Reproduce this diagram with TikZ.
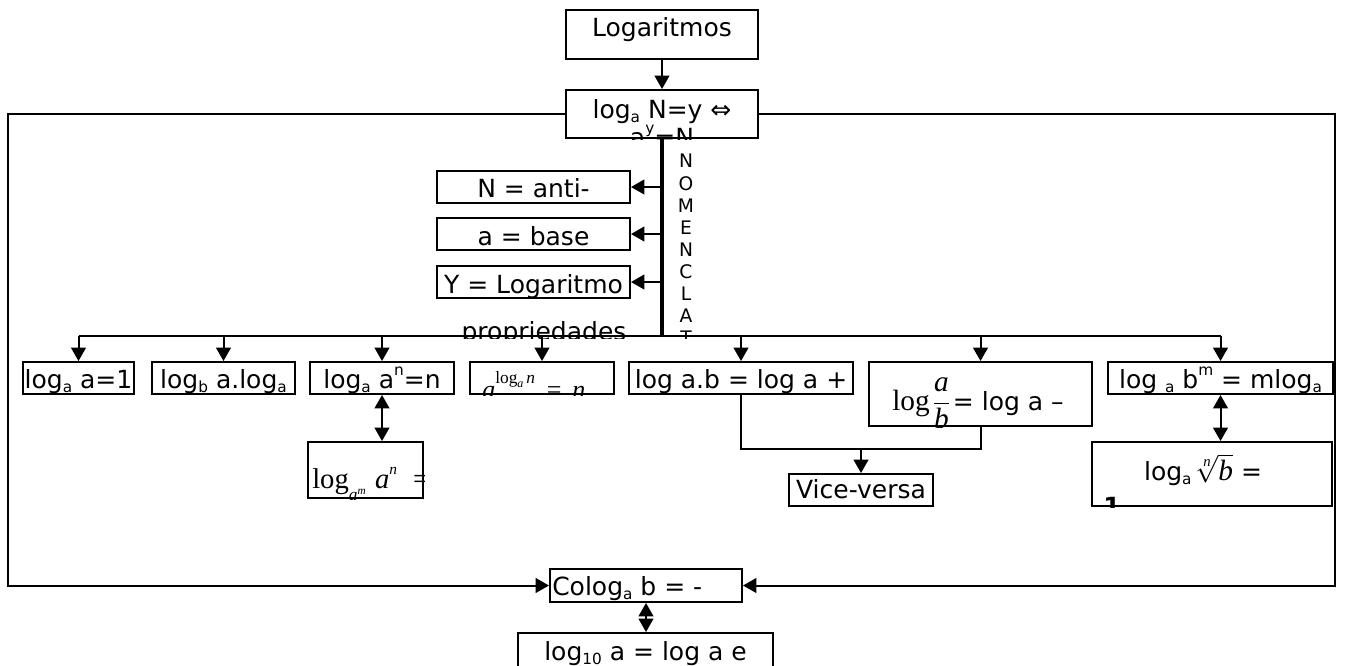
\documentclass[tikz,border=0pt]{standalone}
\usepackage{fontspec}
\setmainfont{DejaVu Sans}
\newfontfamily\tms{Liberation Serif}
\usetikzlibrary{arrows.meta,fit}

% small lowered / raised indices inside sans labels
\newcommand\dn[1]{\raisebox{-3.5pt}{\fontsize{11.5}{11.5}\selectfont #1}}
\newcommand\up[1]{\raisebox{9.5pt}{\fontsize{11.5}{11.5}\selectfont #1}}
% text placed inside a box and cut off at the box border
\newcommand\boxtext[4]{\begin{scope}\clip (#1.south west) rectangle (#1.north east);\node[lbl,#3] (#2) {#4};\end{scope}}

\begin{document}
\begin{tikzpicture}[x=0.75pt,y=-0.75pt,
  box/.style={draw,line width=1.5pt,inner sep=0pt},
  lbl/.style={inner sep=0pt,font=\fontsize{18.75}{22}\selectfont},
  conn/.style={line width=1.5pt},
  trunkline/.style={line width=2.3pt},
  arr/.style={conn,-{Triangle[length=10pt,width=11pt]}},
  darr/.style={conn,{Triangle[length=10pt,width=11pt]}-{Triangle[length=10pt,width=11pt]}}]
\useasboundingbox (0,0) rectangle (1345,665);
\clip (0,0) rectangle (1345,665);

% boxes
\node[box,fit={(566,10)(758,59)}] (logar) {};
\node[box,fit={(566,90)(758,138)}] (lognd) {};
\node[box,fit={(437,171)(630,203)}] (nanti) {};
\node[box,fit={(437,218)(630,250)}] (nbase) {};
\node[box,fit={(437,266)(630,298)}] (nlog) {};
\node[box,fit={(23,362)(134,394)}] (p1) {};
\node[box,fit={(152,362)(295,394)}] (p2) {};
\node[box,fit={(310,362)(454,394)}] (p3) {};
\node[box,fit={(470,362)(614,394)}] (p4) {};
\node[box,fit={(629,362)(853,394)}] (p5) {};
\node[box,fit={(869,362)(1092,426)}] (p6) {};
\node[box,fit={(1108,362)(1333,394)}] (p7) {};
\node[box,fit={(308,442)(423,498)}] (p3b) {};
\node[box,fit={(1092,442)(1332,506)}] (p7b) {};
\node[box,fit={(789,474)(933,506)}] (vv) {};
\node[box,fit={(550,569)(742,602)}] (colog) {};
\node[box,fit={(518,633)(773,690)}] (log10) {};

% box texts
\boxtext{logar}{logar-t}{anchor=base,at={(662,36)}}{Logaritmos}
\boxtext{lognd}{lognd-t1}{anchor=base,at={(662,118)}}{log\dn{a} N=y ⇔}
\boxtext{lognd}{lognd-t2}{anchor=base,at={(662,146)}}{a\up{y}=N}
\boxtext{nanti}{nanti-t}{anchor=base,at={(533.5,197)}}{N = anti-}
\boxtext{nbase}{nbase-t}{anchor=base,at={(533.5,245)}}{a = base}
\boxtext{nlog}{nlog-t}{anchor=base,at={(533.5,293)}}{Y = Logaritmo}
\boxtext{p1}{p1-t}{anchor=base,at={(78.5,388)}}{log\dn{a} a=1}
\boxtext{p2}{p2-t}{anchor=base,at={(223.5,388)}}{log\dn{b} a.log\dn{a}}
\boxtext{p3}{p3-t}{anchor=base,at={(382,388)}}{log\dn{a} a\up{n}=n}
\boxtext{p4}{p4-t}{anchor=base west,at={(482,398)}}{\tms\fontsize{19.5}{20}\selectfont
  \itshape a\upshape\raisebox{11pt}{\fontsize{13}{13}\selectfont log\raisebox{-3pt}{\fontsize{9}{9}\selectfont\itshape a}\,\itshape n}\hspace{9pt}=\hspace{8pt}\itshape n}
\boxtext{p5}{p5-t}{anchor=base,at={(741,388)}}{log a.b = log a +}
\boxtext{p6}{p6-t}{anchor=base west,at={(892,410)}}{{\tms\fontsize{22}{24}\selectfont log\hspace{2pt}$\displaystyle\frac{\hbox{\itshape a}}{\hbox{\itshape b}}$}\hspace{2pt}= log a –}
\boxtext{p7}{p7-t}{anchor=base,at={(1220.5,388)}}{log \dn{a} b\up{m} = mlog\dn{a}}
\boxtext{p3b}{p3b-t}{anchor=base west,at={(312,488)}}{\tms\fontsize{21.5}{22}\selectfont
  log\raisebox{-9pt}{\fontsize{13}{13}\selectfont\itshape a\raisebox{4.5pt}{\fontsize{8.5}{8.5}\selectfont m}}\hspace{7pt}\itshape a\raisebox{10pt}{\fontsize{11.5}{12}\selectfont n}\hspace{12pt}\upshape =}
\boxtext{p7b}{p7b-t1}{anchor=base,at={(1203,480)}}{log\dn{a}\,{\tms\fontsize{22}{24}\selectfont$\sqrt[\hbox{\fontsize{11}{11}\selectfont\itshape n}]{\hbox{\itshape b}}$} =}
\boxtext{p7b}{p7b-t2}{anchor=base west,at={(1103,515)}}{\bfseries 1}
\boxtext{vv}{vv-t}{anchor=base,at={(861,498)}}{Vice-versa}
\boxtext{colog}{colog-t}{anchor=base west,at={(552,595)}}{Colog\dn{a} b = -}
\boxtext{log10}{log10-t}{anchor=base,at={(645.5,660)}}{log\dn{10} a = log a e}

% free labels
\begin{scope}
  \clip (440,300) rectangle (650,338);
  \node[lbl,anchor=base,at={(544,340)}] (prop) {propriedades};
\end{scope}
\begin{scope}
  \clip (670,140) rectangle (705,338);
  \node[inner sep=0pt,anchor=north,align=center,font=\fontsize{14}{16.6}\selectfont,at={(686,154)}] (nomen)
    {N\\O\\M\\E\\N\\C\\L\\A\\T};
\end{scope}

% helper coordinates for routed connectors
\coordinate (frameL) at (8,0);
\coordinate (frameR) at (1335,0);
\coordinate (bus) at (0,336);
\coordinate (vj) at (0,449);

% connectors
\draw[arr] (logar.south) -- (lognd.north);
\draw[arr] (lognd.west) -| (frameL |- colog.west) -- (colog.west);
\draw[arr] (lognd.east) -| (frameR |- colog.east) -- (colog.east);
\draw[trunkline] (lognd.south) -- (lognd.south |- bus);
\draw[arr] (lognd.south |- nanti.east) -- (nanti.east);
\draw[arr] (lognd.south |- nbase.east) -- (nbase.east);
\draw[arr] (lognd.south |- nlog.east) -- (nlog.east);
\draw[conn] (p1.north |- bus) -- (p7.north |- bus);
\foreach \p in {p1,p2,p3,p4,p5,p6,p7}
  \draw[arr] (\p.north |- bus) -- (\p.north);
\draw[darr] (p3.south) -- (p3.south |- p3b.north);
\draw[darr] (p7.south) -- (p7.south |- p7b.north);
\draw[conn] (p5.south) -- (p5.south |- vj) -- (p6.south |- vj) -- (p6.south);
\draw[arr] (vv.north |- vj) -- (vv.north);
\draw[darr] (colog.south) -- (colog.south |- log10.north);
\end{tikzpicture}
\end{document}
